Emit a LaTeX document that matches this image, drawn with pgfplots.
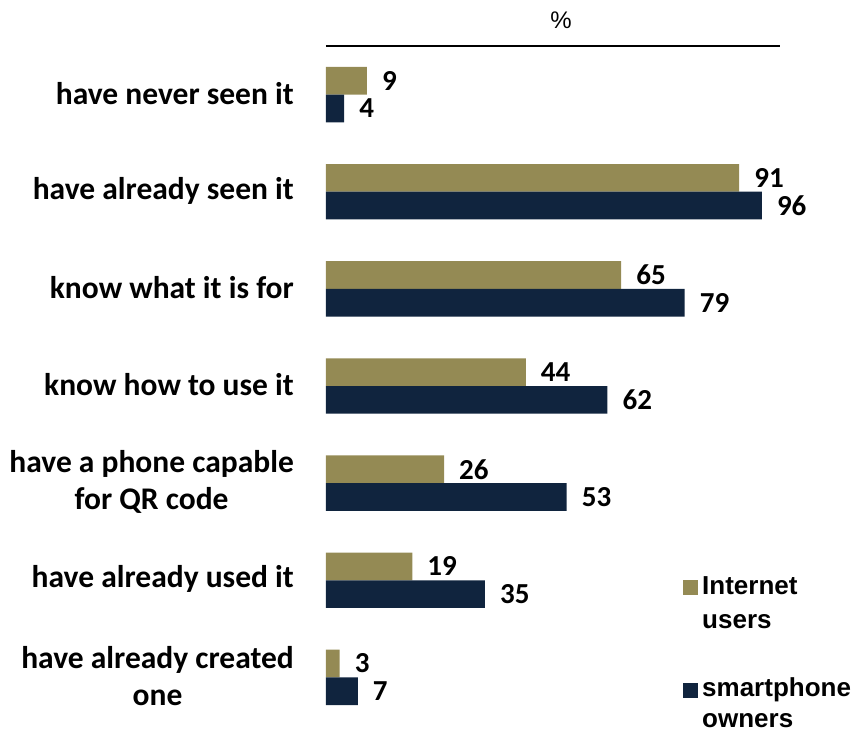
\documentclass[border=0pt]{standalone}
\usepackage{fontspec}
\setmainfont{Carlito}
\newfontfamily\arialf{Liberation Sans}
\usepackage{pgfplots}
\pgfplotsset{compat=1.18}
\definecolor{tanc}{HTML}{948A54}
\definecolor{navyc}{HTML}{10243E}
\begin{document}
\begin{tikzpicture}[x=1pt,y=1pt]
\useasboundingbox (0,0) rectangle (860,732);
\begin{axis}[
 at={(326pt,6pt)}, anchor=south west,
 scale only axis, width=454pt, height=680pt,
 xbar, bar width=27.7pt,
 xmin=0, xmax=100, ymin=-0.5, ymax=6.5,
 axis x line*=top, axis y line*=left,
 y axis line style={draw=none},
 x axis line style={line width=1.5pt},
 xtick=\empty, ytick={0,...,6},
 /pgf/number format/assume math mode=true,
 yticklabels={{have already created\\one}, have already used it, {have a phone capable\\for QR code}, know how to use it, know what it is for, have already seen it, have never seen it},
 yticklabel style={font=\fontsize{31.5}{37}\selectfont\bfseries, align=center, anchor=east, inner sep=0pt, xshift=-32pt, yshift=1pt},
 major tick length=0pt,
 nodes near coords,
 nodes near coords style={font=\fontsize{29}{34}\selectfont\bfseries, anchor=west, inner sep=0pt, xshift=15pt},
 clip=false,
]
\addplot[fill=tanc, draw=none, bar shift=13.85pt] coordinates {(3,0) (19,1) (26,2) (44,3) (65,4) (91,5) (9,6)};
\addplot[fill=navyc, draw=none, bar shift=-13.85pt] coordinates {(7,0) (35,1) (53,2) (62,3) (79,4) (96,5) (4,6)};
\end{axis}
\node[font=\arialf\fontsize{24}{28}\selectfont] at (561,712) {\%};
\fill[tanc] (683,137) rectangle (698,152);
\node[anchor=base west, align=left, inner sep=0pt, font=\arialf\bfseries\fontsize{26}{34}\selectfont] at (702,104) {Internet\\users};
\fill[navyc] (683,34) rectangle (698,49);
\node[anchor=base west, align=left, inner sep=0pt, font=\arialf\bfseries\fontsize{26}{31}\selectfont] at (702,5) {smartphone\\owners};
\end{tikzpicture}
\end{document}
